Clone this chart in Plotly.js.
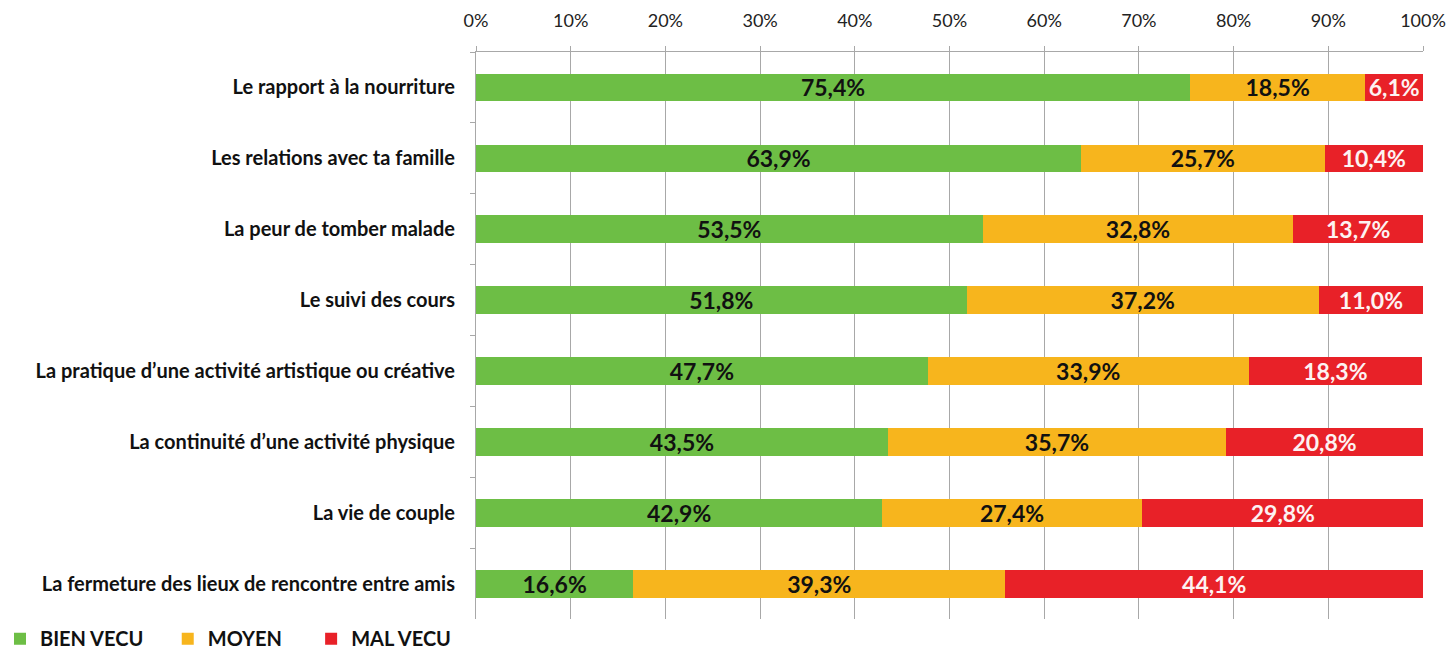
<!DOCTYPE html>
<html>
<head>
<meta charset="utf-8">
<script src="https://cdn.plot.ly/plotly-3.0.1.min.js"></script>
<style>html,body{margin:0;padding:0;background:#fff;}#chart{width:1451px;height:653px;}</style>
</head>
<body>
<div id="chart"></div>
<script>
const categories = [
  "Le rapport à la nourriture",
  "Les relations avec ta famille",
  "La peur de tomber malade",
  "Le suivi des cours",
  "La pratique d’une activité artistique ou créative",
  "La continuité d’une activité physique",
  "La vie de couple",
  "La fermeture des lieux de rencontre entre amis"
];
const bienVecu = [75.4, 63.9, 53.5, 51.8, 47.7, 43.5, 42.9, 16.6];
const moyen    = [18.5, 25.7, 32.8, 37.2, 33.9, 35.7, 27.4, 39.3];
const malVecu  = [6.1, 10.4, 13.7, 11.0, 18.3, 20.8, 29.8, 44.1];
const tickVals = [0, 10, 20, 30, 40, 50, 60, 70, 80, 90, 100];
const tickLabels = ["0%", "10%", "20%", "30%", "40%", "50%", "60%", "70%", "80%", "90%", "100%"];

const fmt = v => v.toFixed(1).replace('.', ',') + '%';
const FONT = "Lato, 'Open Sans', sans-serif";

function mk(name, vals, color, txtColor) {
  return {
    type: 'bar', orientation: 'h', name: name,
    y: categories, x: vals,
    marker: {color: color},
    text: vals.map(fmt),
    textposition: 'inside',
    insidetextanchor: 'middle',
    constraintext: 'none',
    textfont: {family: FONT, size: 23, color: txtColor, weight: 'bold'},
    hoverinfo: 'skip'
  };
}

const data = [
  mk('BIEN VECU\u00a0\u00a0\u00a0\u00a0', bienVecu, '#6dbe45', '#111'),
  mk('MOYEN\u00a0\u00a0\u00a0\u00a0\u00a0', moyen, '#f7b51d', '#111'),
  mk('MAL VECU', malVecu, '#e82128', '#fdf2f2')
];

const layout = {
  width: 1451, height: 653,
  margin: {l: 476, r: 28, t: 52, b: 20},
  barmode: 'stack',
  bargap: 0.61,
  paper_bgcolor: '#fff', plot_bgcolor: '#fff',
  font: {family: FONT, color: '#111'},
  xaxis: {
    side: 'top', range: [0, 100],
    tickvals: tickVals, ticktext: tickLabels,
    showgrid: true, gridcolor: '#a8a8a8', gridwidth: 1,
    showline: true, linecolor: '#a8a8a8', linewidth: 1,
    ticks: 'outside', ticklen: 5, tickcolor: '#a8a8a8',
    tickfont: {family: FONT, size: 18, color: '#222'},
    ticklabelstandoff: 12,
    zeroline: false, fixedrange: true
  },
  yaxis: {
    type: 'category', autorange: 'reversed',
    showline: true, linecolor: '#a8a8a8', linewidth: 1,
    ticks: 'outside', ticklen: 5, tickcolor: '#a8a8a8',
    tickson: 'boundaries',
    tickfont: {family: FONT, size: 20, color: '#111', weight: 'bold'},
    ticklabelstandoff: 16,
    showgrid: false, fixedrange: true
  },
  showlegend: true,
  legend: {
    orientation: 'h', xref: 'container', yref: 'container',
    x: 0.0, y: 0.022, xanchor: 'left', yanchor: 'middle',
    font: {family: FONT, size: 20, color: '#111', weight: 'bold'},
    traceorder: 'normal', itemwidth: 30,
    bgcolor: 'rgba(0,0,0,0)'
  }
};

Plotly.newPlot('chart', data, layout, {displayModeBar: false, staticPlot: true});
</script>
</body>
</html>
